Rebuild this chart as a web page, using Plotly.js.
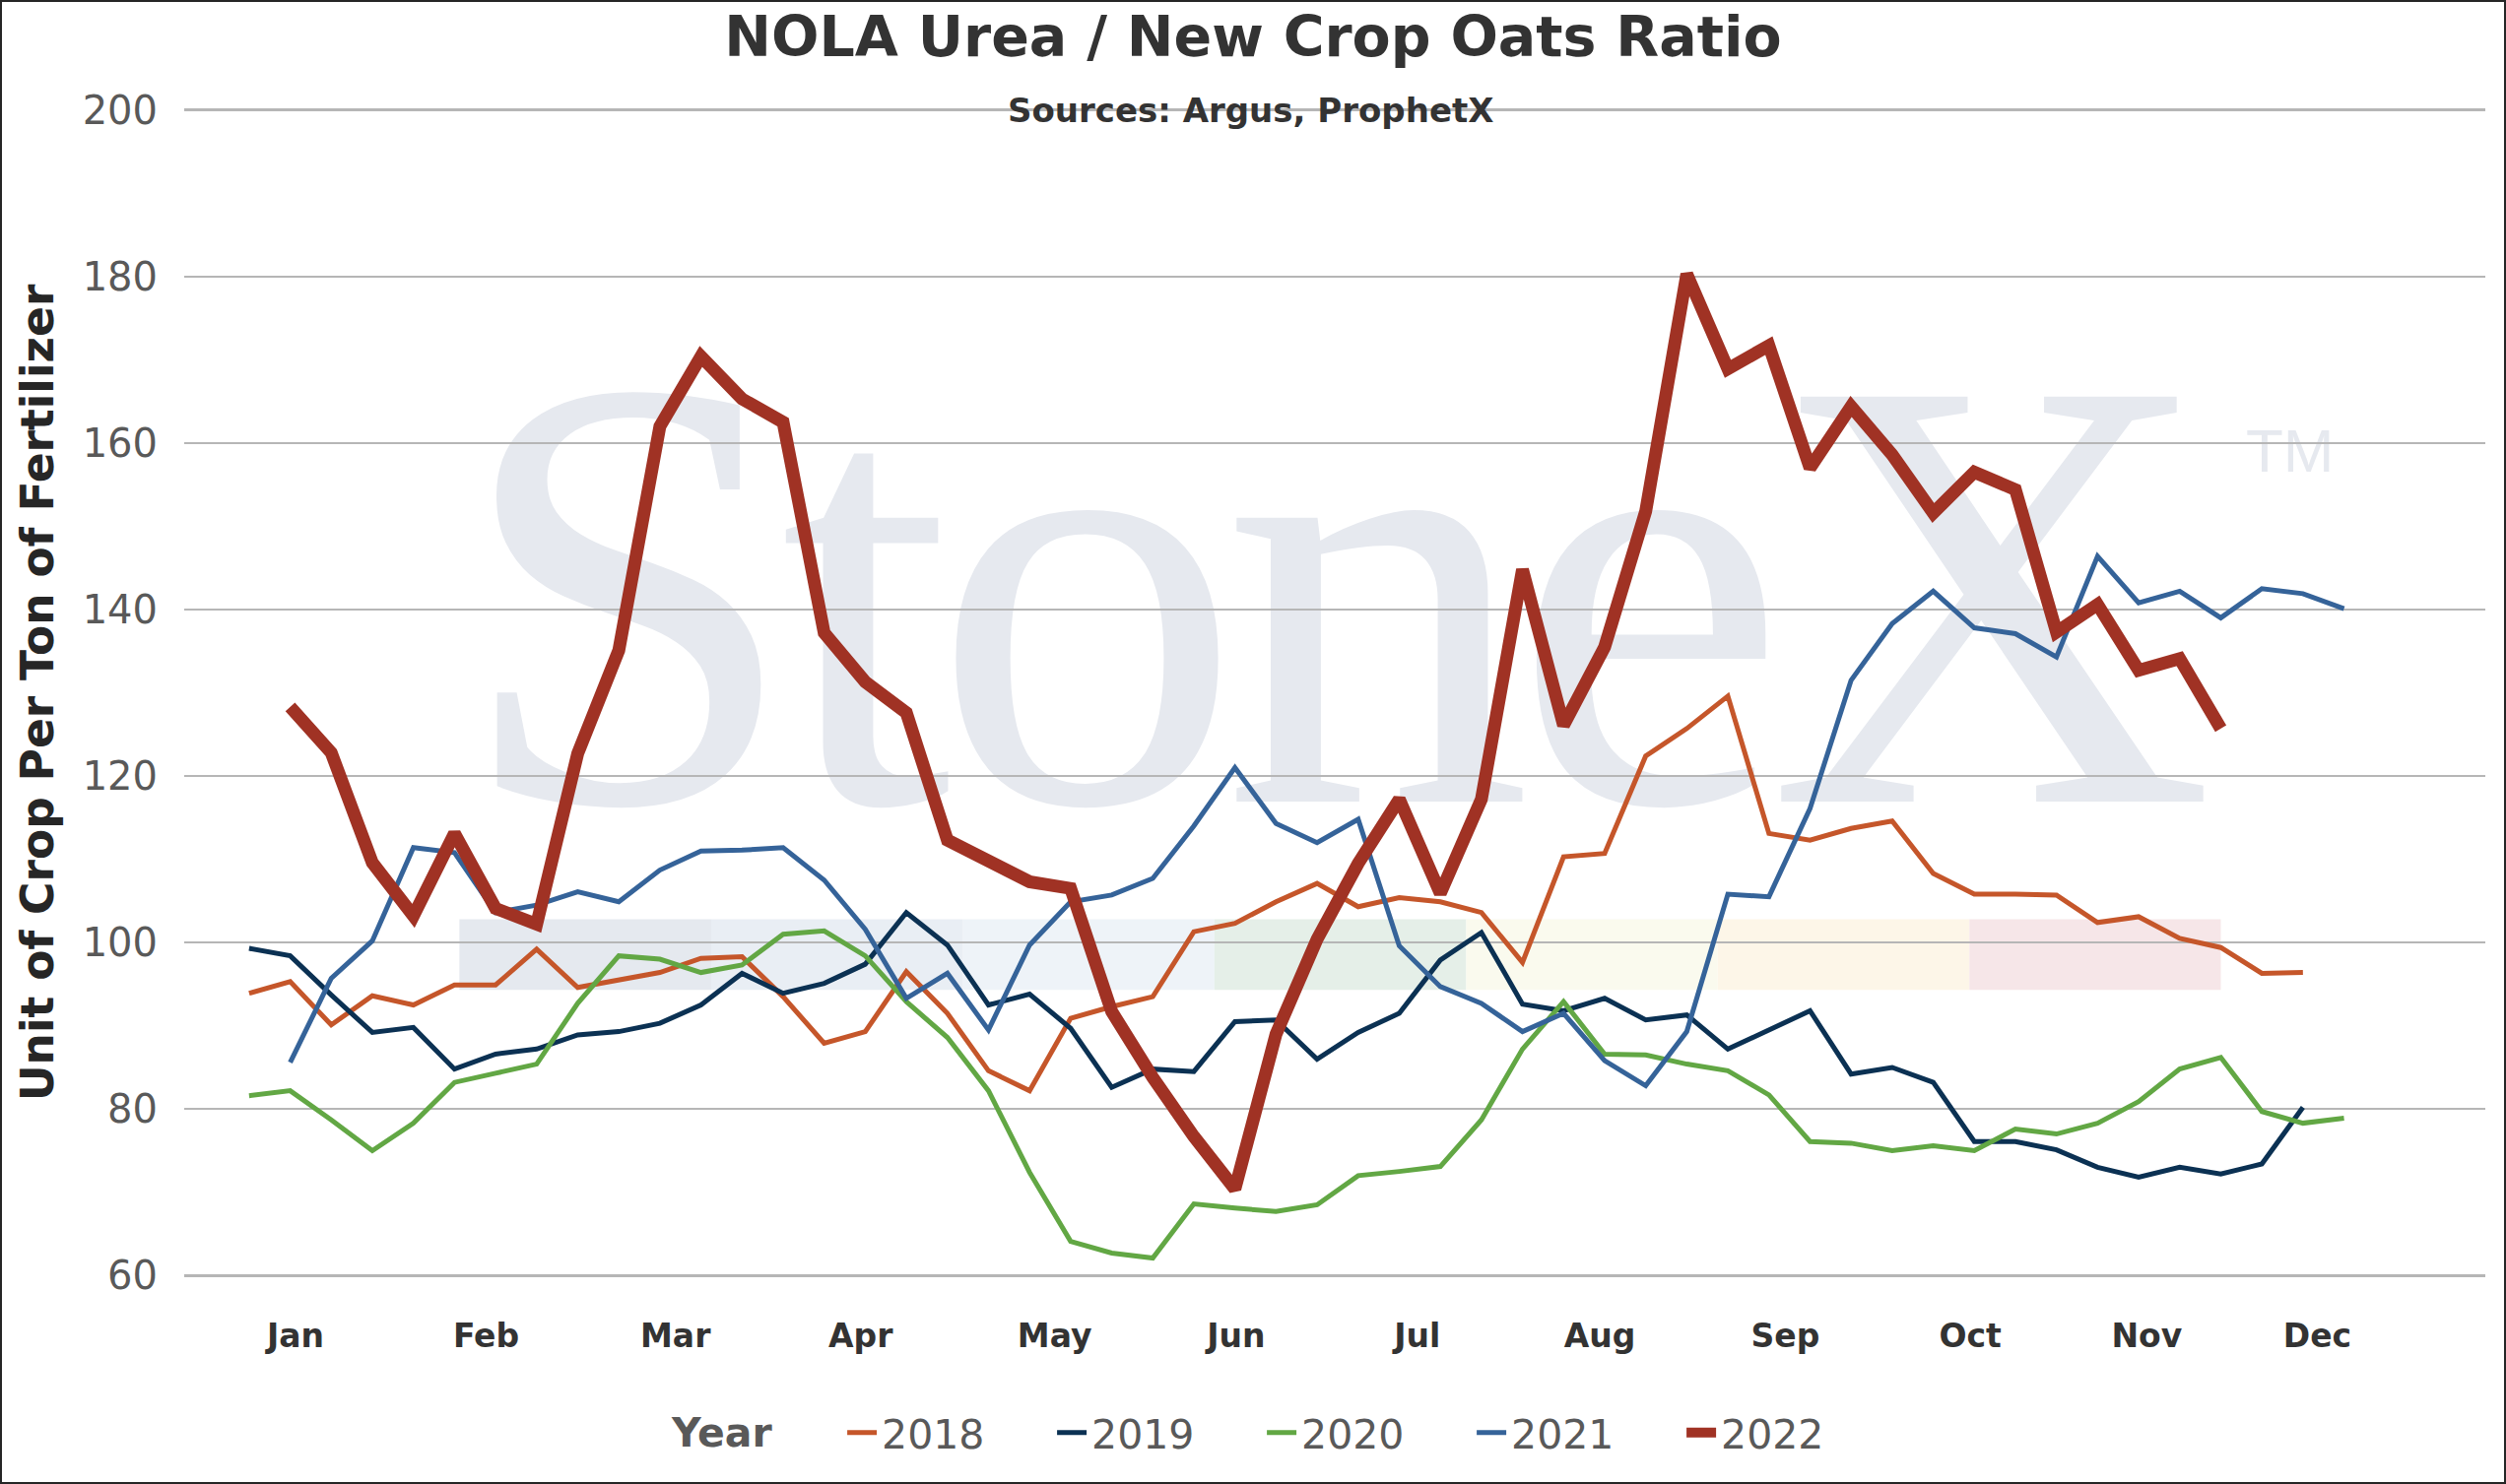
<!DOCTYPE html>
<html>
<head>
<meta charset="utf-8">
<script src="https://cdn.plot.ly/plotly-3.0.1.min.js"></script>
<style>
  html, body { margin: 0; padding: 0; background: #ffffff; }
  #wrap { position: relative; width: 2544px; height: 1507px; outline: 2px solid #262626; outline-offset: -2px; }
  #mark { position: absolute; left: 0; top: 0; }
  #chart { position: absolute; left: 0; top: 0; width: 2544px; height: 1507px; }
</style>
</head>
<body>
<div id="wrap">
  <svg id="mark" width="2544" height="1507">
    <text x="462" y="814" font-family="Liberation Serif, Times New Roman, serif" font-size="628" fill="#e6e9ef" textLength="1786" lengthAdjust="spacing">StoneX</text>
    <text x="2280" y="479" font-family="Liberation Sans, Arial, sans-serif" font-size="62" fill="#e6e9ef">TM</text>
  </svg>
  <div id="chart"></div>
</div>
<script>
  // weekly ratio, one value per week; index = week slot on the x axis
  const years = ['2018', '2019', '2020', '2021', '2022'];
  const firstWeek = [0, 0, 0, 1, 1];

  const v2018 = [93.9, 95.3, 90.1, 93.6, 92.5, 94.9, 94.9, 99.2, 94.6, 95.5,
                 96.4, 98.1, 98.3, 93.5, 87.9, 89.3, 96.5, 91.5, 84.6, 82.2,
                 90.9, 92.3, 93.5, 101.3, 102.3, 104.9, 107.1, 104.3, 105.4, 104.9,
                 103.6, 97.6, 110.3, 110.7, 122.4, 125.7, 129.6, 113.1, 112.3, 113.7,
                 114.6, 108.3, 105.8, 105.8, 105.7, 102.4, 103.1, 100.5, 99.4, 96.3, 96.4];
  const v2019 = [99.3, 98.4, 93.7, 89.2, 89.8, 84.8, 86.6, 87.2, 88.9, 89.3,
                 90.3, 92.5, 96.3, 93.9, 95.1, 97.4, 103.6, 99.7, 92.5, 93.8,
                 89.7, 82.6, 84.8, 84.5, 90.5, 90.7, 86.0, 89.2, 91.5, 97.9,
                 101.2, 92.6, 91.8, 93.3, 90.7, 91.3, 87.2, 89.5, 91.8, 84.2,
                 85.0, 83.2, 76.1, 76.1, 75.1, 73.0, 71.8, 73.0, 72.2, 73.4, 80.2];
  const v2020 = [81.6, 82.2, 78.7, 75.0, 78.3, 83.2, 84.3, 85.4, 92.7, 98.4,
                 98.0, 96.4, 97.3, 101.0, 101.4, 98.4, 92.9, 88.6, 82.2, 72.4,
                 64.1, 62.7, 62.1, 68.6, 68.1, 67.7, 68.5, 72.0, 72.5, 73.1,
                 78.7, 87.2, 92.9, 86.6, 86.5, 85.4, 84.6, 81.7, 76.1, 75.9,
                 75.0, 75.6, 75.0, 77.6, 77.0, 78.3, 80.9, 84.8, 86.2, 79.7, 78.3, 78.9];
  const v2021 = [85.6, 95.7, 100.2, 111.4, 110.8, 103.6, 104.5, 106.1, 104.9, 108.7,
                 111.0, 111.1, 111.4, 107.5, 101.6, 93.3, 96.3, 89.5, 99.7, 104.9,
                 105.7, 107.7, 114.0, 121.0, 114.3, 112.0, 114.8, 99.6, 94.7, 92.7,
                 89.3, 91.5, 85.8, 82.8, 89.3, 105.8, 105.5, 116.1, 131.5, 138.3,
                 142.2, 137.8, 137.1, 134.3, 146.4, 140.8, 142.2, 139.0, 142.5, 141.9, 140.1];
  const v2022 = [128.3, 122.8, 109.6, 103.2, 113.1, 104.1, 102.2, 122.7, 135.1, 162.0,
                 170.4, 165.3, 162.5, 137.2, 131.3, 127.6, 112.3, 109.8, 107.3, 106.5,
                 91.7, 83.8, 76.7, 70.4, 89.0, 100.4, 109.5, 117.2, 105.9, 117.2,
                 144.8, 126.1, 135.5, 151.8, 180.3, 168.9, 171.7, 157.0, 164.4, 158.6,
                 151.6, 156.5, 154.4, 137.3, 140.6, 132.7, 134.1, 125.7];

  const months = ['Jan', 'Feb', 'Mar', 'Apr', 'May', 'Jun', 'Jul', 'Aug', 'Sep', 'Oct', 'Nov', 'Dec'];
  const monthPos = [1.13, 5.77, 10.38, 14.89, 19.61, 24.03, 28.44, 32.88, 37.4, 41.9, 46.2, 50.35];

  // seasonal band behind the lines
  const bandEdges = [5.12, 11.25, 17.38, 23.5, 29.63, 35.75, 41.88, 48.0];
  const bandLow = 94.3;
  const bandHigh = 102.8;
  const bandColors = ['#e5e9ef', '#e9eef4', '#eef3f8', '#e5efe8', '#fafaee', '#fdf6e8', '#f6e6e8'];

  const colors = ['#c5562a', '#0b3153', '#62a744', '#356399', '#a03224'];
  const widths = [5, 5, 5, 5, 13];

  const values = [v2018, v2019, v2020, v2021, v2022];
  const data = [];
  for (let i = 0; i < years.length; i++) {
    let xs = values[i].map((v, k) => firstWeek[i] + k);
    data.push({
      x: xs, y: values[i], type: 'scatter', mode: 'lines', name: years[i],
      line: { color: colors[i], width: widths[i] },
      hoverinfo: 'skip'
    });
  }

  const shapes = [];
  for (let i = 0; i < bandColors.length; i++) {
    shapes.push({
      type: 'rect', xref: 'x', yref: 'y', layer: 'below',
      x0: bandEdges[i], x1: bandEdges[i + 1], y0: bandLow, y1: bandHigh,
      fillcolor: bandColors[i], line: { width: 0 }
    });
  }

  const font = 'DejaVu Sans, Verdana, sans-serif';
  const layout = {
    width: 2544, height: 1507,
    margin: { l: 187, r: 21, t: 110, b: 210 },
    paper_bgcolor: 'rgba(0,0,0,0)', plot_bgcolor: 'rgba(0,0,0,0)',
    font: { family: font, color: '#595959' },
    title: { text: 'NOLA Urea / New Crop Oats Ratio', xref: 'container', x: 0.5, xanchor: 'center',
             yref: 'container', y: 0.9754, yanchor: 'middle',
             font: { family: font, size: 57, weight: 'bold', color: '#333333' } },
    xaxis: { range: [-1.58, 54.44], tickvals: monthPos, ticktext: months,
             showgrid: false, zeroline: false, showline: false, ticks: '',
             ticklabelstandoff: 37,
             tickfont: { family: font, size: 33, weight: 'bold', color: '#333333' } },
    yaxis: { range: [59.8, 200.2], tickvals: [60, 80, 100, 120, 140, 160, 180, 200],
             showgrid: true, gridcolor: '#b6b6b6', gridwidth: 2.5,
             zeroline: false, showline: false, ticks: '', ticklabelstandoff: 26,
             tickfont: { family: font, size: 40, color: '#595959' },
             title: { text: 'Unit of Crop Per Ton of Fertilizer', standoff: 14,
                      font: { family: font, size: 45.5, weight: 'bold', color: '#262626' } } },
    legend: { orientation: 'h', x: 0.286, xanchor: 'left', y: -0.1331, yanchor: 'middle',
              entrywidth: 168, entrywidthmode: 'pixels',
              font: { family: font, size: 41, color: '#595959' } },
    annotations: [{
      text: 'Sources: Argus, ProphetX', xref: 'paper', yref: 'y', x: 0.4636, y: 200,
      xanchor: 'center', yanchor: 'middle', showarrow: false,
      font: { family: font, size: 34, weight: 'bold', color: '#333333' }
    }, {
      text: 'Year', xref: 'paper', yref: 'paper', x: 0.2337, y: -0.1331,
      xanchor: 'center', yanchor: 'middle', showarrow: false,
      font: { family: font, size: 41, weight: 'bold', color: '#595959' }
    }],
    shapes: shapes,
    hovermode: false,
    showlegend: true
  };

  Plotly.newPlot('chart', data, layout, { staticPlot: true, displayModeBar: false });
</script>
</body>
</html>
